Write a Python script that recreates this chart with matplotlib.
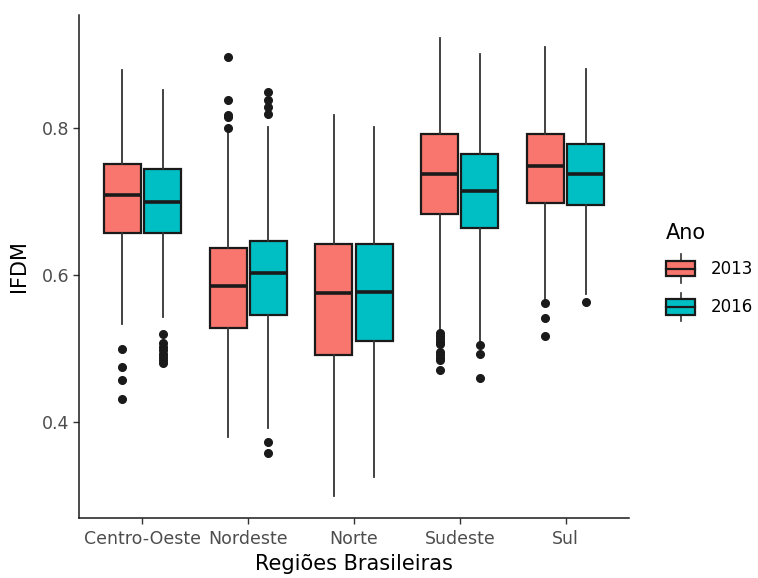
import matplotlib.pyplot as plt
from matplotlib.legend_handler import HandlerBase
from matplotlib.patches import Rectangle, Patch
from matplotlib.lines import Line2D
import numpy as np

regions = ['Centro-Oeste', 'Nordeste', 'Norte', 'Sudeste', 'Sul']
years = ['2013', '2016']
colors = ['#F8766D', '#00BFC4']

# 2013
lo_2013 = [0.533, 0.379, 0.299, 0.523, 0.566]
q1_2013 = [0.656, 0.528, 0.490, 0.683, 0.698]
med_2013 = [0.708, 0.584, 0.575, 0.737, 0.748]
q3_2013 = [0.751, 0.636, 0.641, 0.791, 0.791]
hi_2013 = [0.878, 0.797, 0.817, 0.922, 0.910]
out_2013 = [[0.499, 0.474, 0.457, 0.431],
            [0.896, 0.837, 0.817, 0.814, 0.800],
            [],
            [0.521, 0.516, 0.512, 0.508, 0.505, 0.495, 0.491, 0.487, 0.484, 0.470],
            [0.561, 0.541, 0.517]]

# 2016
lo_2016 = [0.543, 0.392, 0.325, 0.509, 0.573]
q1_2016 = [0.656, 0.545, 0.510, 0.663, 0.694]
med_2016 = [0.699, 0.602, 0.577, 0.713, 0.737]
q3_2016 = [0.743, 0.646, 0.642, 0.764, 0.778]
hi_2016 = [0.851, 0.801, 0.801, 0.900, 0.880]
out_2016 = [[0.519, 0.507, 0.502, 0.497, 0.492, 0.488, 0.484, 0.480],
            [0.848, 0.838, 0.828, 0.819, 0.373, 0.357],
            [],
            [0.504, 0.492, 0.459],
            [0.563]]


def make_stats(lo, q1, med, q3, hi, out):
    stats = []
    for i in range(len(lo)):
        stats.append({'whislo': lo[i], 'q1': q1[i], 'med': med[i],
                      'q3': q3[i], 'whishi': hi[i], 'fliers': out[i]})
    return stats


class BoxKey(HandlerBase):
    def create_artists(self, legend, orig_handle, xdescent, ydescent,
                       width, height, fontsize, trans):
        x0, y0 = -xdescent, -ydescent
        xc = x0 + width / 2
        b0, b1 = y0 + 0.2 * height, y0 + 0.8 * height
        arts = [
            Line2D([xc, xc], [y0 - 0.05 * height, b0], color='#333333', lw=1.2),
            Line2D([xc, xc], [b1, y0 + 1.05 * height], color='#333333', lw=1.2),
            Rectangle((x0, b0), width, b1 - b0, facecolor=orig_handle.get_facecolor(),
                      edgecolor='#1a1a1a', lw=1.6),
            Line2D([x0, x0 + width], [(b0 + b1) / 2] * 2, color='#1a1a1a', lw=1.6),
        ]
        for a in arts:
            a.set_transform(trans)
        return arts


fig = plt.figure(figsize=(7.58, 5.78), dpi=100)
ax = fig.add_axes([79 / 758, 60 / 578, 550 / 758, 503 / 578])

pos = np.arange(1, len(regions) + 1)
all_stats = [make_stats(lo_2013, q1_2013, med_2013, q3_2013, hi_2013, out_2013),
             make_stats(lo_2016, q1_2016, med_2016, q3_2016, hi_2016, out_2016)]
offsets = [-0.19, 0.19]

for stats, off, c in zip(all_stats, offsets, colors):
    ax.bxp(stats, positions=pos + off, widths=0.35, patch_artist=True,
           showcaps=False, manage_ticks=False,
           boxprops=dict(facecolor=c, edgecolor='#1a1a1a', linewidth=1.6),
           medianprops=dict(color='#1a1a1a', linewidth=2.6),
           whiskerprops=dict(color='#333333', linewidth=1.3),
           flierprops=dict(marker='o', markerfacecolor='#1a1a1a',
                           markeredgecolor='#1a1a1a', markersize=5.5))

ax.set_xlim(0.4, 5.6)
ax.set_ylim(0.269, 0.953)
ax.set_xticks(pos)
ax.set_xticklabels(regions)
ax.set_yticks([0.4, 0.6, 0.8])
ax.set_yticklabels(['0.4', '0.6', '0.8'])

for s in ['top', 'right']:
    ax.spines[s].set_visible(False)
for s in ['left', 'bottom']:
    ax.spines[s].set_linewidth(1.1)
    ax.spines[s].set_color('#1a1a1a')
ax.tick_params(axis='both', length=4, width=1.0, color='#333333',
               labelcolor='#4D4D4D', labelsize=12.5)
ax.tick_params(axis='x', pad=5)
ax.tick_params(axis='y', pad=3)

ax.set_xlabel('Regiões Brasileiras', fontsize=15, labelpad=4)
ax.set_ylabel('IFDM', fontsize=15, labelpad=9)

handles = [Patch(facecolor=c) for c in colors]
leg = ax.legend(handles, years, title='Ano', loc='center left',
                bbox_to_anchor=(1.04, 0.49), frameon=False, fontsize=12,
                title_fontsize=15, handler_map={Patch: BoxKey()},
                handlelength=1.75, handleheight=2.0, labelspacing=0.75,
                handletextpad=0.95, alignment='left')

fig.savefig('out.png', dpi=100)
